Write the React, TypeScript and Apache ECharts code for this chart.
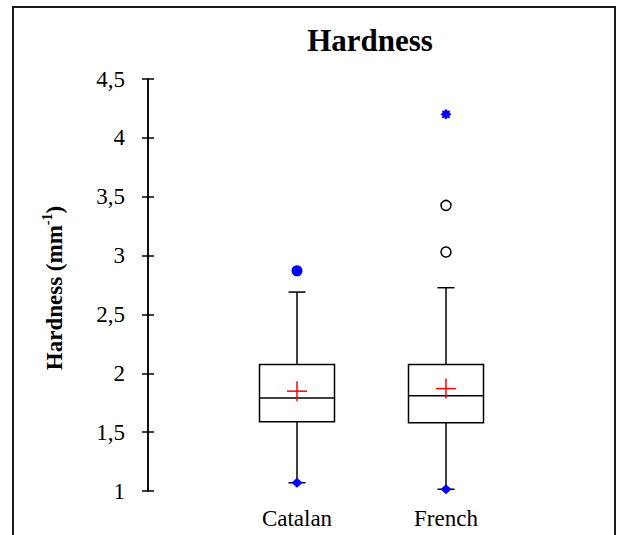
import React, { useEffect, useRef } from 'react';
import * as echarts from 'echarts';

const categories = ['Catalan', 'French'];
const whiskerLow = [1.07, 1.015];
const q1 = [1.588, 1.58];
const median = [1.79, 1.81];
const q3 = [2.074, 2.074];
const whiskerHigh = [2.69, 2.727];
const means = [1.848, 1.87];
const maxValues = [2.87, 4.2];
const frenchOutliers = [3.426, 3.03];
const yMin = 1;
const yMax = 4.5;
const yStep = 0.5;

const FONT = '"Liberation Serif", "Times New Roman", serif';

function starPath(): string {
  const pts: string[] = [];
  const n = 16;
  for (let i = 0; i < n; i++) {
    const a = (Math.PI * 2 * i) / n - Math.PI / 2;
    const r = i % 2 === 0 ? 10 : 7;
    pts.push(`${(10 + r * Math.cos(a)).toFixed(2)},${(10 + r * Math.sin(a)).toFixed(2)}`);
  }
  return 'path://M' + pts.join('L') + 'Z';
}

export default function App() {
  const ref = useRef<HTMLDivElement>(null);
  useEffect(() => {
    if (!ref.current) return;
    const chart = echarts.init(ref.current, undefined, { renderer: 'svg' });
    const xCats = ['', ...categories, ''];
    const boxData = categories.map((c, i) => [i + 1, whiskerLow[i], q1[i], median[i], q3[i], whiskerHigh[i]]);
    const meanData = categories.map((c, i) => [i + 1, means[i]]);
    const minData = categories.map((c, i) => [i + 1, whiskerLow[i]]);
    const maxData = [
      { value: [1, maxValues[0]], symbol: 'circle', symbolSize: 11 },
      { value: [2, maxValues[1]], symbol: starPath(), symbolSize: 11 },
    ];
    const outData = frenchOutliers.map((v) => [2, v]);

    const lineStyle = { stroke: '#000', lineWidth: 1.5 };

    chart.setOption({
      animation: false,
      backgroundColor: '#fff',
      grid: { left: 148, top: 79, width: 447, height: 412, containLabel: false },
      xAxis: {
        type: 'category',
        data: xCats,
        boundaryGap: false,
        axisLine: { show: false },
        axisTick: { show: false },
        splitLine: { show: false },
        axisLabel: { interval: 0, color: '#000', fontFamily: FONT, fontSize: 23, margin: 16 },
      },
      yAxis: [
        {
          type: 'value',
          position: 'left',
          min: yMin,
          max: yMax,
          interval: yStep,
          axisLine: { show: true, lineStyle: { color: '#000', width: 1.5 } },
          axisTick: { show: true, length: 6, lineStyle: { color: '#000', width: 1.5 } },
          splitLine: { show: false },
          axisLabel: {
            color: '#000',
            fontFamily: FONT,
            fontSize: 23,
            margin: 23,
            formatter: (v: number) => String(v).replace('.', ','),
          },
        },
        {
          type: 'value',
          position: 'left',
          min: yMin,
          max: yMax,
          interval: yStep,
          axisLine: { show: true, lineStyle: { color: '#000', width: 1.5 } },
          axisTick: { show: true, inside: true, length: 6, lineStyle: { color: '#000', width: 1.5 } },
          splitLine: { show: false },
          axisLabel: { show: false },
        },
      ],
      graphic: [
        {
          type: 'rect',
          z: -10,
          shape: { x: 13, y: 7, width: 602, height: 600 },
          style: { fill: 'none', stroke: '#1a1a1a', lineWidth: 2 },
        },
        {
          type: 'text',
          x: 370,
          y: 40,
          style: {
            text: 'Hardness',
            font: `bold 31px ${FONT}`,
            fill: '#000',
            align: 'center',
            verticalAlign: 'middle',
          },
        },
        {
          type: 'text',
          x: 53,
          y: 288,
          rotation: Math.PI / 2,
          style: {
            text: '{a|Hardness (mm}{s|-1}{a|)}',
            align: 'center',
            verticalAlign: 'middle',
            fill: '#000',
            rich: {
              a: { fontFamily: FONT, fontWeight: 'bold', fontSize: 23, lineHeight: 25, verticalAlign: 'bottom' },
              s: { fontFamily: FONT, fontWeight: 'bold', fontSize: 14, lineHeight: 25, verticalAlign: 'top' },
            },
          },
        },
      ],
      series: [
        {
          type: 'custom',
          data: boxData,
          encode: { x: 0, y: [1, 2, 3, 4, 5] },
          z: 2,
          renderItem: (params: any, api: any) => {
            const x = api.value(0);
            const pLow = api.coord([x, api.value(1)]);
            const pQ1 = api.coord([x, api.value(2)]);
            const pMed = api.coord([x, api.value(3)]);
            const pQ3 = api.coord([x, api.value(4)]);
            const pHigh = api.coord([x, api.value(5)]);
            const cx = pQ1[0];
            const half = 37.5;
            const cap = 8.5;
            return {
              type: 'group',
              children: [
                { type: 'line', shape: { x1: cx, y1: pQ3[1], x2: cx, y2: pHigh[1] }, style: lineStyle },
                { type: 'line', shape: { x1: cx - cap, y1: pHigh[1], x2: cx + cap, y2: pHigh[1] }, style: lineStyle },
                { type: 'line', shape: { x1: cx, y1: pQ1[1], x2: cx, y2: pLow[1] }, style: lineStyle },
                { type: 'line', shape: { x1: cx - cap, y1: pLow[1], x2: cx + cap, y2: pLow[1] }, style: lineStyle },
                {
                  type: 'rect',
                  shape: { x: cx - half, y: pQ3[1], width: half * 2, height: pQ1[1] - pQ3[1] },
                  style: { fill: '#fff', stroke: '#000', lineWidth: 1.5 },
                },
                { type: 'line', shape: { x1: cx - half, y1: pMed[1], x2: cx + half, y2: pMed[1] }, style: lineStyle },
              ],
            };
          },
        },
        {
          type: 'custom',
          data: meanData,
          encode: { x: 0, y: 1 },
          z: 5,
          renderItem: (params: any, api: any) => {
            const p = api.coord([api.value(0), api.value(1)]);
            const s = 10;
            const st = { stroke: '#ff0000', lineWidth: 1.5 };
            return {
              type: 'group',
              children: [
                { type: 'line', shape: { x1: p[0] - s, y1: p[1], x2: p[0] + s, y2: p[1] }, style: st },
                { type: 'line', shape: { x1: p[0], y1: p[1] - s, x2: p[0], y2: p[1] + s }, style: st },
              ],
            };
          },
        },
        {
          type: 'scatter',
          data: minData,
          symbol: 'diamond',
          symbolSize: [11, 10],
          z: 6,
          itemStyle: { color: '#0000ff', opacity: 1 },
        },
        {
          type: 'scatter',
          data: maxData,
          z: 6,
          itemStyle: { color: '#0000ff', opacity: 1 },
        },
        {
          type: 'scatter',
          data: outData,
          symbol: 'circle',
          symbolSize: 10,
          z: 6,
          itemStyle: { color: '#fff', borderColor: '#000', borderWidth: 1.5, opacity: 1 },
        },
      ],
    });
    return () => chart.dispose();
  }, []);
  return <div ref={ref} style={{ position: 'absolute', left: 0, top: 0, width: 618, height: 535 }} />;
}
